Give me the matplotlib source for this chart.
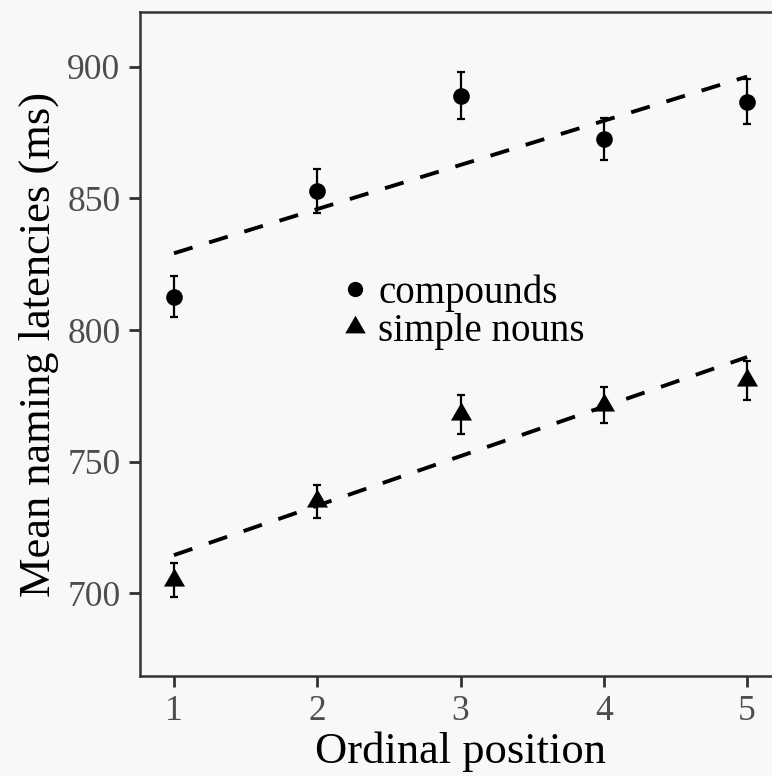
import numpy as np
import matplotlib
matplotlib.use("Agg")
import matplotlib.pyplot as plt
from matplotlib.lines import Line2D

# Mean naming latencies by ordinal position
positions = [1, 2, 3, 4, 5]
compounds_mean = [812.7, 852.7, 889.0, 872.5, 886.7]
compounds_err = [7.7, 8.4, 8.9, 8.0, 8.5]
simple_mean = [705.2, 734.9, 768.0, 771.6, 780.9]
simple_err = [6.5, 6.2, 7.3, 6.8, 7.4]
series_labels = ["compounds", "simple nouns"]
y_ticks = [700, 750, 800, 850, 900]

plt.rcParams["font.family"] = ["Liberation Serif", "DejaVu Serif"]
plt.rcParams["lines.scale_dashes"] = False

W, H = 772, 776
fig = plt.figure(figsize=(W / 100, H / 100), dpi=100)
fig.patch.set_facecolor("#f8f8f7")

# axes placement (pixels): left spine 140, bottom 676, top 12, unit width 143.3 px
left_px, top_px, bottom_px = 140, 12, 676
xmin, xmax = 0.763, 5.24
ax = fig.add_axes([left_px / W, 1 - bottom_px / H,
                   (xmax - xmin) * 143.3 / W, (bottom_px - top_px) / H])
ax.set_facecolor("#f8f8f7")
ax.set_xlim(xmin, xmax)
ax.set_ylim(668.6, 920.8)

# equilateral triangle marker
tri = [(-1, -0.577), (1, -0.577), (0, 1.155), (-1, -0.577)]

x = np.array(positions, dtype=float)
for mean, err, mk, ms in [(compounds_mean, compounds_err, "o", 12),
                          (simple_mean, simple_err, tri, 17.5)]:
    ax.errorbar(x, mean, yerr=err, fmt="none", ecolor="black",
                elinewidth=1.6, capsize=3.0, capthick=1.6, zorder=3)
    ax.plot(x, mean, linestyle="none", marker=mk, markersize=ms,
            color="black", markeredgewidth=0, zorder=4)
    slope, intercept = np.polyfit(x, mean, 1)
    ax.plot(x[[0, -1]], intercept + slope * x[[0, -1]], color="black",
            linewidth=2.8, linestyle=(0, (14, 12.5)), zorder=2)

ax.set_xticks(positions)
ax.set_yticks(y_ticks)
ax.tick_params(axis="both", direction="out", length=8, width=2,
               color="#333333", labelcolor="#4d4d4d", labelsize=25.5, pad=6)
for side in ["left", "bottom", "top"]:
    ax.spines[side].set_color("#333333")
    ax.spines[side].set_linewidth(1.8)
ax.spines["right"].set_visible(False)

ax.set_xlabel("Ordinal position", fontsize=32, color="black", labelpad=2)
ax.set_ylabel("Mean naming latencies (ms)", fontsize=32, color="black",
              labelpad=6)

handles = [
    Line2D([], [], linestyle="none", marker="o", markersize=11, color="black",
           markeredgewidth=0),
    Line2D([], [], linestyle="none", marker=tri, markersize=17, color="black",
           markeredgewidth=0),
]
ax.legend(handles, series_labels, loc="center left",
          bbox_to_anchor=((343 - left_px) / (143.3 * (xmax - xmin)),
                          (676 - 312) / (676 - 12)),
          frameon=False, fontsize=28, handlelength=0.6, handletextpad=0.3,
          labelspacing=0.02, borderpad=0, borderaxespad=0)

fig.savefig("out.png", dpi=100, facecolor=fig.get_facecolor())
